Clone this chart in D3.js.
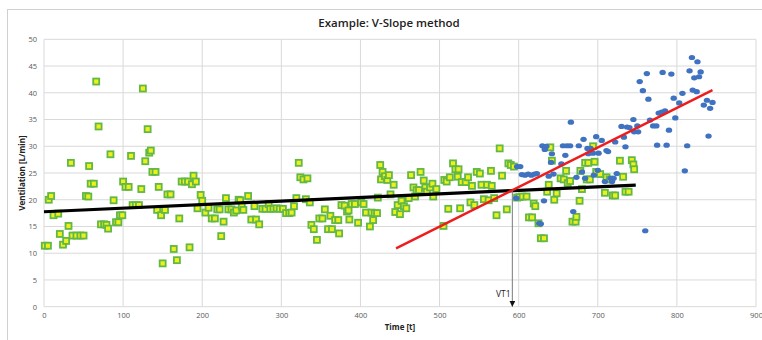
<!DOCTYPE html>
<html>
<head>
<meta charset="utf-8">
<script src="https://cdn.jsdelivr.net/npm/d3@7/dist/d3.min.js"></script>
<style>
  body { margin: 0; background: #fff; }
  svg { display: block; font-family: "Open Sans", "Liberation Sans", sans-serif; }
</style>
</head>
<body>
<div id="chart"></div>
<script>
// time [t], ventilation [L/min]
const greenPoints = [
  [1,11.4],[5,11.4],[6,20.0],[9,20.7],[12,17.1],[18,17.4],[20,13.6],[24,11.6],[28,12.3],[31,15.1],
  [34,26.9],[36,13.3],[41,13.3],[46,13.3],[50,13.3],[53,20.7],[56,20.6],[57,26.3],[59,23.0],[63,23.0],
  [66,42.1],[69,33.7],[72,15.4],[76,15.4],[79,15.3],[81,14.6],[84,28.5],[88,19.9],[91,15.8],[94,15.8],
  [96,17.1],[99,17.1],[100,23.4],[103,22.4],[107,22.4],[110,28.2],[112,19.0],[116,19.0],[120,19.0],[123,22.0],
  [125,40.8],[128,27.2],[131,33.2],[133,28.8],[135,29.2],[137,25.2],[141,25.2],[143,18.1],[145,22.4],[148,17.1],
  [150,8.1],[153,18.1],[156,21.0],[160,21.0],[164,10.8],[168,8.7],[171,16.5],[174,23.4],[178,23.4],[182,23.4],
  [184,11.1],[187,22.9],[189,24.5],[192,23.4],[194,18.4],[198,20.9],[200,19.8],[204,17.6],[208,18.5],[212,16.5],
  [216,16.5],[219,18.2],[222,18.2],[224,13.2],[227,15.9],[230,20.3],[233,18.2],[237,18.2],[240,17.6],[243,18.0],
  [246,20.0],[248,19.9],[250,18.8],[252,18.1],[258,20.7],[262,16.3],[266,18.8],[268,16.3],[272,15.4],[276,18.3],
  [280,18.3],[284,19.2],[286,18.3],[290,18.3],[294,18.4],[298,18.3],[302,18.3],[306,17.5],[310,17.5],[313,17.6],
  [316,18.8],[319,20.3],[322,26.9],[324,24.2],[328,23.8],[331,20.1],[333,24.0],[336,19.5],[338,15.3],[341,14.5],
  [345,12.5],[348,16.5],[352,16.5],[355,18.2],[359,14.5],[362,17.0],[364,14.5],[368,16.2],[372,16.2],[373,13.7],
  [376,19.0],[380,18.9],[383,17.8],[385,18.0],[386,16.3],[389,19.2],[393,19.2],[397,15.7],[401,19.5],[404,19.2],
  [407,17.6],[412,15.0],[414,17.6],[416,16.2],[418,17.5],[421,17.5],[422,20.4],[425,26.5],[426,23.8],[428,25.2],
  [431,24.4],[434,23.7],[436,24.6],[438,21.0],[442,22.8],[444,17.7],[447,19.0],[450,17.3],[452,19.8],[455,18.8],
  [458,18.4],[461,20.3],[464,24.6],[467,22.3],[469,20.6],[471,21.8],[474,21.8],[476,25.2],[480,23.6],[482,22.3],
  [484,21.5],[488,22.3],[491,23.0],[492,20.6],[496,22.0],[505,15.1],[506,23.7],[509,23.4],[511,18.3],[513,24.2],
  [517,26.8],[520,25.7],[523,24.3],[524,25.7],[526,18.4],[528,23.3],[533,23.3],[536,24.2],[539,19.5],[541,22.6],
  [544,19.0],[547,25.2],[551,24.9],[553,22.8],[556,20.1],[560,22.8],[562,19.9],[565,25.4],[566,22.6],[569,20.3],
  [572,17.1],[576,29.6],[579,24.5],[585,18.2],[587,26.8],[590,26.5],[594,26.2],[598,20.4],[601,20.5],[605,20.6],
  [610,20.6],[613,16.7],[617,16.7],[619,19.3],[621,18.8],[625,15.6],[628,12.8],[632,12.8],[636,21.5],[638,22.8],
  [640,29.8],[642,27.3],[645,20.0],[648,21.2],[653,24.0],[657,23.8],[660,25.4],[662,23.1],[665,23.5],[668,15.9],
  [672,15.9],[673,16.8],[677,19.8],[678,25.4],[680,22.0],[684,26.9],[686,23.8],[688,26.9],[690,23.8],[694,30.0],
  [696,27.1],[698,25.2],[703,24.8],[709,21.3],[711,24.2],[715,23.8],[719,20.8],[722,20.8],[728,27.3],[732,24.3],
  [735,21.5],[739,21.5],[743,27.4],[745,26.6],[746,25.7]
];

const bluePoints = [
  [597,20.3],[598,26.2],[602,26.2],[604,24.7],[608,24.6],[612,24.8],[616,24.6],[620,24.8],[623,24.9],[626,15.6],
  [628,15.5],[630,30.1],[632,19.8],[633,29.4],[635,30.0],[638,24.4],[641,27.0],[642,28.6],[644,24.8],[654,26.7],
  [656,30.1],[659,28.3],[661,30.1],[665,30.1],[666,34.5],[669,17.8],[673,24.2],[676,30.1],[680,25.2],[682,31.3],
  [684,24.0],[687,29.6],[688,28.6],[691,29.6],[694,28.7],[695,24.6],[698,31.8],[700,25.5],[701,28.7],[705,31.1],
  [709,23.4],[711,29.2],[713,29.0],[716,24.0],[718,23.4],[720,24.0],[722,30.8],[724,24.9],[730,33.7],[733,31.7],
  [735,29.9],[737,33.6],[740,33.5],[745,35.0],[746,32.7],[750,33.8],[751,32.7],[753,42.1],[757,40.4],[760,14.2],
  [762,43.6],[764,38.8],[766,34.9],[770,33.8],[774,33.8],[775,30.2],[777,36.2],[781,36.4],[782,43.8],[785,36.6],
  [787,30.2],[790,33.0],[793,43.5],[796,39.0],[798,35.3],[803,38.1],[807,39.9],[810,25.4],[813,30.1],[816,44.1],
  [819,46.6],[820,40.5],[822,42.8],[825,40.2],[826,45.8],[828,43.0],[830,43.9],[834,37.7],[838,38.6],[840,31.9],
  [842,37.1],[845,38.2]
];

// fitted lines: [t, v] end points
const blackLine = [[0,17.75],[748,22.75]];
const redLine = [[445,10.9],[845,40.5]];
const vt1 = { t: 592, v: 21.7, label: "VT1" };

const xTicks = d3.range(0, 901, 100);
const yTicks = d3.range(0, 51, 5);

const width = 762, height = 340;

const svg = d3.select("#chart").append("svg")
  .attr("width", width)
  .attr("height", height);

// outer chart frame
svg.append("rect")
  .attr("x", 7.5).attr("y", 9.5)
  .attr("width", 800).attr("height", 400)
  .attr("fill", "none")
  .attr("stroke", "#d0d0d0");

const x = d3.scaleLinear().domain([0, 900]).range([44, 756]);
const y = d3.scaleLinear().domain([0, 50]).range([306.7, 39.3]);

// gridlines
svg.append("g").selectAll("line.h")
  .data(yTicks).enter().append("line")
  .attr("x1", x(0)).attr("x2", x(900))
  .attr("y1", d => y(d)).attr("y2", d => y(d))
  .attr("stroke", "#d9d9d9").attr("stroke-width", 1);

svg.append("g").selectAll("line.v")
  .data(xTicks).enter().append("line")
  .attr("x1", d => x(d)).attr("x2", d => x(d))
  .attr("y1", y(0)).attr("y2", y(50))
  .attr("stroke", "#d9d9d9").attr("stroke-width", 1);

// axes (labels only)
const yAxis = svg.append("g")
  .attr("transform", `translate(${x(0)},0)`)
  .call(d3.axisLeft(y).tickValues(yTicks).tickSize(0).tickPadding(7));
const xAxis = svg.append("g")
  .attr("transform", `translate(0,${y(0)})`)
  .call(d3.axisBottom(x).tickValues(xTicks).tickSize(0).tickPadding(6));
[xAxis, yAxis].forEach(a => {
  a.select(".domain").remove();
  a.selectAll("text")
    .attr("fill", "#595959")
    .style("font-size", "7.5px")
    .style("font-family", "'Open Sans', sans-serif");
});

// green squares
svg.append("g").selectAll("rect")
  .data(greenPoints).enter().append("rect")
  .attr("x", d => x(d[0]) - 3)
  .attr("y", d => y(d[1]) - 3)
  .attr("width", 6).attr("height", 6)
  .attr("fill", "#eef01a")
  .attr("stroke", "#62b846")
  .attr("stroke-width", 1.8);

// blue dots
svg.append("g").selectAll("ellipse")
  .data(bluePoints).enter().append("ellipse")
  .attr("cx", d => x(d[0]))
  .attr("cy", d => y(d[1]))
  .attr("rx", 3.2).attr("ry", 2.6)
  .attr("fill", "#3f72c0");

const line = d3.line().x(d => x(d[0])).y(d => y(d[1]));

svg.append("path")
  .attr("d", line(blackLine))
  .attr("fill", "none")
  .attr("stroke", "#000")
  .attr("stroke-width", 3.2);

svg.append("path")
  .attr("d", line(redLine))
  .attr("fill", "none")
  .attr("stroke", "#ee1c1c")
  .attr("stroke-width", 2.4);

// VT1 marker
svg.append("defs").append("marker")
  .attr("id", "arrow")
  .attr("viewBox", "0 0 10 10")
  .attr("refX", 10).attr("refY", 5)
  .attr("markerWidth", 6).attr("markerHeight", 6)
  .attr("orient", "auto")
  .append("path")
  .attr("d", "M0,0L10,5L0,10z")
  .attr("fill", "#111");

svg.append("line")
  .attr("x1", x(vt1.t)).attr("x2", x(vt1.t))
  .attr("y1", y(vt1.v)).attr("y2", y(0))
  .attr("stroke", "#7a7a7a")
  .attr("stroke-width", 1)
  .attr("marker-end", "url(#arrow)");

svg.append("text")
  .attr("x", x(vt1.t) - 9)
  .attr("y", 297)
  .attr("text-anchor", "middle")
  .attr("fill", "#222")
  .style("font-size", "8.5px")
  .text(vt1.label);

// titles
svg.append("text")
  .attr("x", 389).attr("y", 27)
  .attr("text-anchor", "middle")
  .attr("fill", "#222")
  .style("font-size", "11.5px")
  .style("font-weight", 600)
  .text("Example: V-Slope method");

svg.append("text")
  .attr("transform", `translate(25,${y(25)}) rotate(-90)`)
  .attr("text-anchor", "middle")
  .attr("fill", "#222")
  .style("font-size", "8px")
  .style("font-weight", 700)
  .text("Ventilation [L/min]");

svg.append("text")
  .attr("x", 400).attr("y", 330)
  .attr("text-anchor", "middle")
  .attr("fill", "#222")
  .style("font-size", "8px")
  .style("font-weight", 700)
  .text("Time [t]");
</script>
</body>
</html>
